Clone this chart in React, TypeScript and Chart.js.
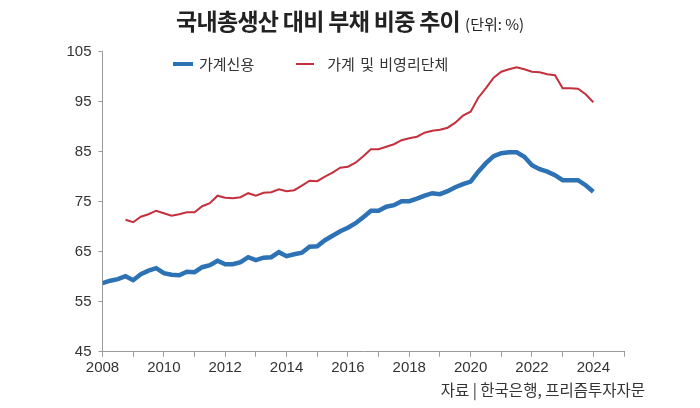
import { useEffect, useRef } from 'react';
import { Chart, registerables } from 'chart.js';

Chart.register(...registerables);

// 분기별 (2008Q1 ~ 2024Q1)
const quarters = [
  '2008Q1', '2008Q2', '2008Q3', '2008Q4',
  '2009Q1', '2009Q2', '2009Q3', '2009Q4',
  '2010Q1', '2010Q2', '2010Q3', '2010Q4',
  '2011Q1', '2011Q2', '2011Q3', '2011Q4',
  '2012Q1', '2012Q2', '2012Q3', '2012Q4',
  '2013Q1', '2013Q2', '2013Q3', '2013Q4',
  '2014Q1', '2014Q2', '2014Q3', '2014Q4',
  '2015Q1', '2015Q2', '2015Q3', '2015Q4',
  '2016Q1', '2016Q2', '2016Q3', '2016Q4',
  '2017Q1', '2017Q2', '2017Q3', '2017Q4',
  '2018Q1', '2018Q2', '2018Q3', '2018Q4',
  '2019Q1', '2019Q2', '2019Q3', '2019Q4',
  '2020Q1', '2020Q2', '2020Q3', '2020Q4',
  '2021Q1', '2021Q2', '2021Q3', '2021Q4',
  '2022Q1', '2022Q2', '2022Q3', '2022Q4',
  '2023Q1', '2023Q2', '2023Q3', '2023Q4',
  '2024Q1',
];

// 가계신용
const householdCredit = [
  58.7, 59.2, 59.5, 60.1,
  59.3, 60.5, 61.2, 61.7,
  60.7, 60.4, 60.3, 61.0,
  60.9, 61.9, 62.3, 63.2,
  62.5, 62.5, 62.9, 63.9,
  63.3, 63.8, 63.9, 64.9,
  64.1, 64.5, 64.8, 66.0,
  66.1, 67.3, 68.2, 69.1,
  69.8, 70.7, 71.9, 73.2,
  73.2, 74.0, 74.3, 75.1,
  75.1, 75.6, 76.2, 76.7,
  76.5, 77.1, 77.9, 78.5,
  79.0, 81.0, 82.7, 84.1,
  84.7, 84.9, 84.9, 84.0,
  82.3, 81.5, 81.0, 80.3,
  79.3, 79.3, 79.3, 78.3,
  77.0,
];

// 가계 및 비영리단체 (2008Q4부터)
const householdNonprofit = [
  null, null, null, 71.4,
  70.9, 72.0, 72.5, 73.2,
  72.7, 72.2, 72.5, 72.9,
  72.9, 74.1, 74.7, 76.2,
  75.8, 75.7, 75.9, 76.7,
  76.2, 76.8, 76.9, 77.5,
  77.1, 77.3, 78.2, 79.2,
  79.1, 80.0, 80.8, 81.8,
  82.0, 82.8, 84.1, 85.5,
  85.5, 86.0, 86.5, 87.3,
  87.7, 88.0, 88.8, 89.2,
  89.4, 89.8, 90.8, 92.2,
  93.0, 95.8, 97.7, 99.8,
  101.0, 101.5, 101.9, 101.5,
  101.0, 100.9, 100.5, 100.3,
  97.7, 97.7, 97.6, 96.5,
  94.9,
];

const BLUE = '#2c72b5';
const RED = '#c4303c';
const AXIS = '#9a9a9a';
const tickFont = { family: "'Liberation Sans Narrow', 'Liberation Sans', sans-serif", size: 15 };
const krFont = "'Noto Sans CJK KR', sans-serif";

// '2008Q3' -> 2008.5
function quarterToYear(q: string) {
  const [y, n] = q.split('Q');
  return Number(y) + (Number(n) - 1) / 4;
}

function toPoints(values: (number | null)[]) {
  return quarters.map((q, i) => ({ x: quarterToYear(q), y: values[i] }));
}

function DebtChart() {
  const canvasRef = useRef<HTMLCanvasElement>(null);

  useEffect(() => {
    const canvas = canvasRef.current;
    if (!canvas) return;
    const chart = new Chart(canvas, {
      type: 'line',
      data: {
        datasets: [
          {
            label: '가계신용',
            data: toPoints(householdCredit),
            borderColor: BLUE,
            backgroundColor: BLUE,
            borderWidth: 4.5,
            pointRadius: 0,
            tension: 0,
          },
          {
            label: '가계 및 비영리단체',
            data: toPoints(householdNonprofit),
            borderColor: RED,
            backgroundColor: RED,
            borderWidth: 2,
            pointRadius: 0,
            tension: 0,
            spanGaps: false,
          },
        ],
      },
      options: {
        animation: false,
        responsive: false,
        maintainAspectRatio: false,
        layout: { padding: { top: 51.7, right: 76, bottom: 0, left: 0 } },
        plugins: { legend: { display: false }, tooltip: { enabled: false } },
        scales: {
          x: {
            type: 'linear',
            min: 2008,
            max: 2025,
            border: { color: AXIS, width: 1 },
            grid: { drawOnChartArea: false, drawTicks: true, tickLength: 5, color: AXIS },
            ticks: {
              stepSize: 1,
              autoSkip: false,
              maxRotation: 0,
              padding: 2,
              color: '#333',
              font: tickFont,
              callback: (v) => (Number(v) % 2 === 0 ? String(v) : ''),
            },
            afterFit: (s) => {
              s.height = 56.3;
            },
          },
          y: {
            min: 45,
            max: 105,
            border: { color: AXIS, width: 1 },
            grid: { drawOnChartArea: false, drawTicks: true, tickLength: 4, color: AXIS },
            ticks: { stepSize: 10, padding: 7, color: '#333', font: tickFont },
            afterFit: (s) => {
              s.width = 102.5;
            },
          },
        },
      },
    });
    return () => {
      chart.destroy();
    };
  }, []);

  return <canvas ref={canvasRef} width={700} height={408} style={{ position: 'absolute', left: 0, top: 0 }} />;
}

export default function App() {
  return (
    <div
      style={{
        position: 'fixed',
        left: 0,
        top: 0,
        width: 700,
        height: 408,
        background: '#fff',
        overflow: 'hidden',
        fontFamily: krFont,
        color: '#222',
      }}
    >
      <DebtChart />
      <div style={{ position: 'absolute', left: 176, top: 3, whiteSpace: 'nowrap' }}>
        <span style={{ fontSize: 23, fontWeight: 700, letterSpacing: -0.7 }}>국내총생산 대비 부채 비중 추이</span>
        <span style={{ fontSize: 15, marginLeft: 5 }}>(단위: %)</span>
      </div>
      <div style={{ position: 'absolute', left: 173, top: 53, display: 'flex', alignItems: 'center', fontSize: 15, whiteSpace: 'nowrap', color: '#333' }}>
        <span style={{ display: 'inline-block', width: 20, height: 4, background: BLUE, marginRight: 6 }} />
        <span>가계신용</span>
        <span style={{ display: 'inline-block', width: 18, height: 2, background: RED, marginLeft: 42, marginRight: 13 }} />
        <span style={{ wordSpacing: 2 }}>가계 및 비영리단체</span>
      </div>
      <div style={{ position: 'absolute', right: 55, top: 378, fontSize: 15.5, color: '#333', whiteSpace: 'nowrap' }}>
        자료 | 한국은행, 프리즘투자자문
      </div>
    </div>
  );
}
